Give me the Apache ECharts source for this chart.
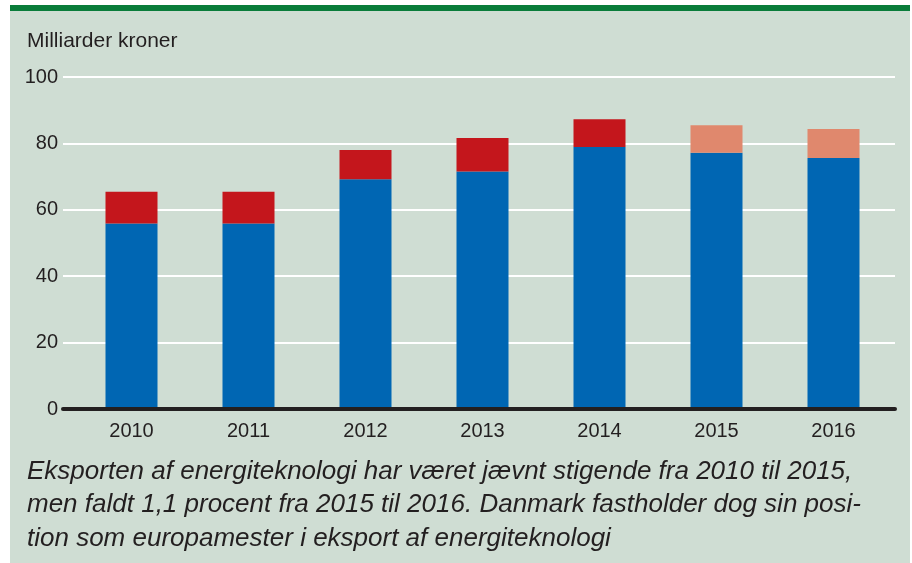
<!DOCTYPE html>
<html>
<head>
<meta charset="utf-8">
<script src="https://cdn.jsdelivr.net/npm/echarts@6/dist/echarts.min.js"></script>
<style>
  html, body { margin: 0; padding: 0; background: #fff; }
  #panel { position: absolute; left: 10px; top: 5px; width: 900px; height: 552px; background: #cfddd3; border-top: 6px solid #0a7c3a; }
  #chart { position: absolute; left: 0; top: 0; width: 912px; height: 563px; }
</style>
</head>
<body>
<div id="panel"></div>
<div id="chart"></div>
<script>
const years = ["2010", "2011", "2012", "2013", "2014", "2015", "2016"];
const baseValues = [55.9, 55.9, 69.2, 71.5, 78.9, 77.2, 75.6];
const redValues = [9.5, 9.5, 8.8, 10.1, 8.4, null, null];
const lightValues = [null, null, null, null, null, 8.3, 8.7];
const yTicks = { min: 0, max: 100, interval: 20 };

const FONT = "'Liberation Sans', Arial, sans-serif";
const TEXT = "#231f20";

const chart = echarts.init(document.getElementById("chart"));
chart.setOption({
  animation: false,
  backgroundColor: "transparent",
  textStyle: { fontFamily: FONT },
  title: [
    { text: "Milliarder kroner", left: 27, top: 31, padding: 0, textStyle: { fontFamily: FONT, fontSize: 21, fontWeight: "normal", color: TEXT } },
    {
      text: "Eksporten af energiteknologi har været jævnt stigende fra 2010 til 2015,\nmen faldt 1,1 procent fra 2015 til 2016. Danmark fastholder dog sin posi-\ntion som europamester i eksport af energiteknologi",
      left: 27, top: 455, padding: 0,
      textStyle: { fontFamily: FONT, fontSize: 26, fontStyle: "italic", fontWeight: "normal", color: TEXT, lineHeight: 33.5 }
    }
  ],
  grid: [
    { left: 63, right: 17, top: 77, bottom: 154 },
    { left: 73, right: 20, top: 77, bottom: 154 }
  ],
  xAxis: [
    {
      gridIndex: 0, type: "value", min: 0, max: 1, z: 5,
      axisLine: { show: true, lineStyle: { color: TEXT, width: 4 } },
      axisTick: { show: false }, axisLabel: { show: false }, splitLine: { show: false }
    },
    {
      gridIndex: 1, type: "category", data: years,
      axisLine: { show: false }, axisTick: { show: false },
      axisLabel: { fontFamily: FONT, fontSize: 20, color: TEXT, margin: 12 }
    }
  ],
  yAxis: [
    {
      gridIndex: 0, type: "value", ...yTicks,
      axisLine: { show: false }, axisTick: { show: false },
      axisLabel: { fontFamily: FONT, fontSize: 20, color: TEXT, margin: 5 },
      splitLine: { lineStyle: { color: "#ffffff", width: 2 } }
    },
    { gridIndex: 1, type: "value", ...yTicks, show: false }
  ],
  series: [
    { type: "bar", stack: "total", xAxisIndex: 1, yAxisIndex: 1, barWidth: 52, data: baseValues, itemStyle: { color: "#0066b3" } },
    { type: "bar", stack: "total", xAxisIndex: 1, yAxisIndex: 1, barWidth: 52, data: redValues, itemStyle: { color: "#c4161c" } },
    { type: "bar", stack: "total", xAxisIndex: 1, yAxisIndex: 1, barWidth: 52, data: lightValues, itemStyle: { color: "#e0886d" } }
  ]
});
</script>
</body>
</html>
